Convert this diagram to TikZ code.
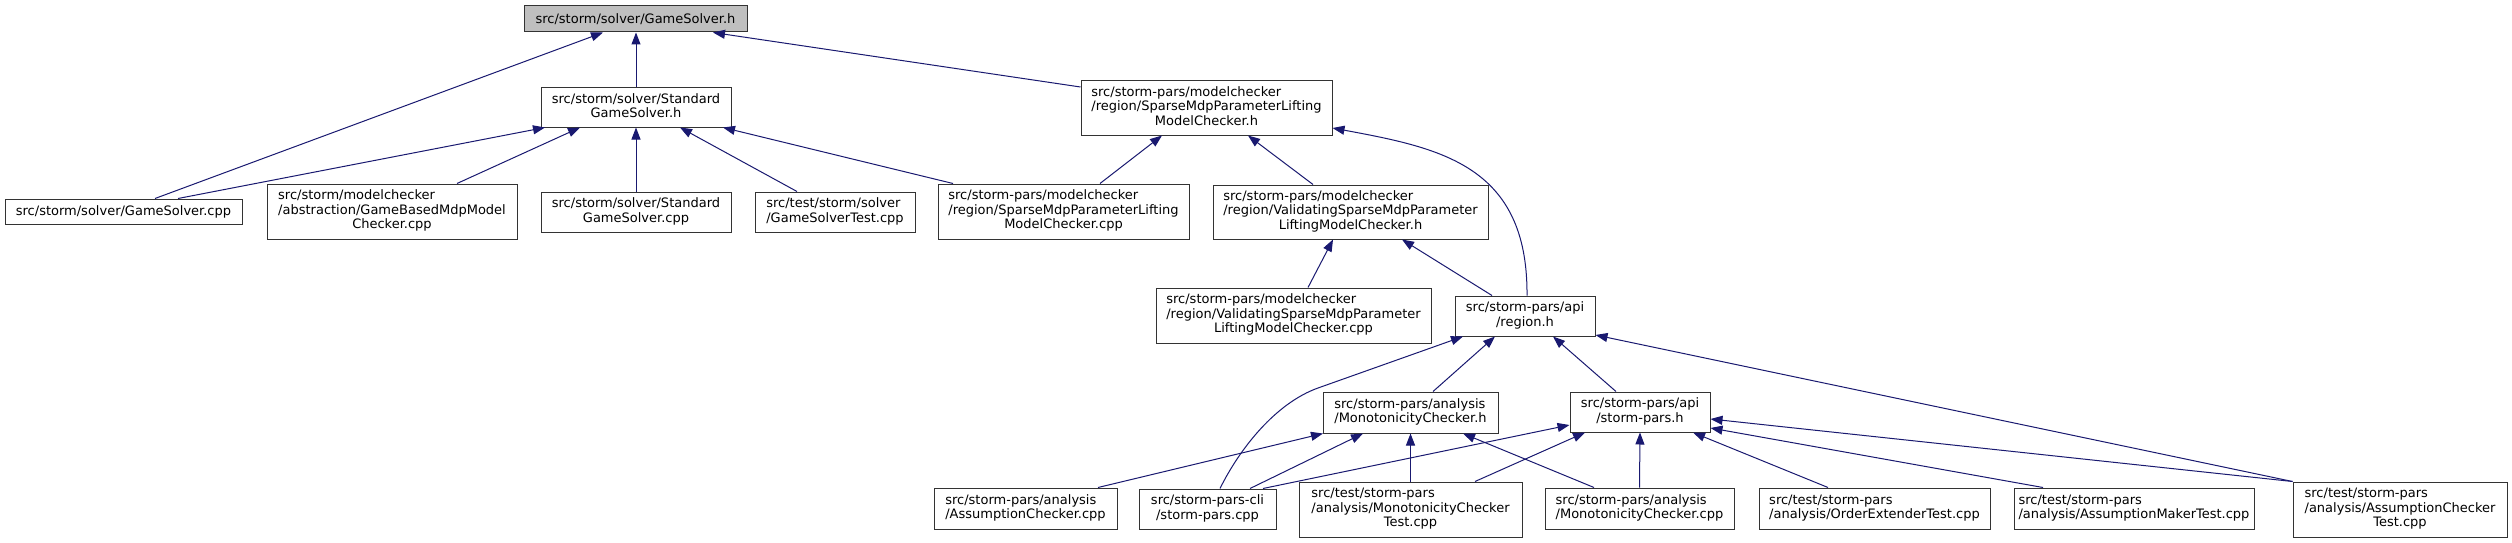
\documentclass[tikz,border=0pt]{standalone}
\usepackage{fontspec}
\setmainfont{DejaVu Sans}
\usetikzlibrary{arrows.meta}
\definecolor{edgeblue}{HTML}{191970}
\definecolor{rootgray}{HTML}{BFBFBF}
\newcommand\labtwo[2]{\begin{tabular}{@{}l@{}}#1\\\multicolumn{1}{@{}c@{}}{#2}\end{tabular}}
\newcommand\labthree[3]{\begin{tabular}{@{}l@{}}#1\\#2\\\multicolumn{1}{@{}c@{}}{#3}\end{tabular}}
\begin{document}
\begin{tikzpicture}[x=1pt,y=-1pt,
  box/.style={draw=black!80, line width=1pt, fill=white, inner sep=0pt,
    font=\fontsize{13}{14.5}\selectfont},
  edge/.style={draw=edgeblue, line width=1pt, {Triangle[length=12pt,width=9pt]}-}]
\useasboundingbox[fill=white] (0,0) rectangle (2512,543);
% row 0
\node[box, fill=rootgray, minimum width=223pt, minimum height=26pt] (GSh) at (635.5,19) {src/storm/solver/GameSolver.h};
% row 1
\node[box, minimum width=190pt, minimum height=39pt] (SGSh) at (636,107.5) {\labtwo{src/storm/solver/Standard}{GameSolver.h}};
\node[box, minimum width=251pt, minimum height=54pt] (SMPh) at (1206.5,108) {\labthree{src/storm-pars/modelchecker}{/region/SparseMdpParameterLifting}{ModelChecker.h}};
% row 2
\node[box, minimum width=237pt, minimum height=25pt] (GScpp) at (123.5,211.5) {src/storm/solver/GameSolver.cpp};
\node[box, minimum width=250pt, minimum height=55pt] (GBMMC) at (392,211.5) {\labthree{src/storm/modelchecker}{/abstraction/GameBasedMdpModel}{Checker.cpp}};
\node[box, minimum width=190pt, minimum height=40pt] (SGScpp) at (636,212) {\labtwo{src/storm/solver/Standard}{GameSolver.cpp}};
\node[box, minimum width=160pt, minimum height=40pt] (GST) at (835,212) {\labtwo{src/test/storm/solver}{/GameSolverTest.cpp}};
\node[box, minimum width=251pt, minimum height=55pt] (SMPcpp) at (1063.5,211.5) {\labthree{src/storm-pars/modelchecker}{/region/SparseMdpParameterLifting}{ModelChecker.cpp}};
\node[box, minimum width=275pt, minimum height=54pt] (VSMPh) at (1350.5,212) {\labthree{src/storm-pars/modelchecker}{/region/ValidatingSparseMdpParameter}{LiftingModelChecker.h}};
% row 3
\node[box, minimum width=275pt, minimum height=55pt] (VSMPcpp) at (1293.5,315.5) {\labthree{src/storm-pars/modelchecker}{/region/ValidatingSparseMdpParameter}{LiftingModelChecker.cpp}};
\node[box, minimum width=140pt, minimum height=40pt] (regionh) at (1525,316) {\labtwo{src/storm-pars/api}{/region.h}};
% row 4
\node[box, minimum width=175pt, minimum height=41pt] (Monoh) at (1410.5,412.5) {\labtwo{src/storm-pars/analysis}{/MonotonicityChecker.h}};
\node[box, minimum width=140pt, minimum height=40pt] (stormparsh) at (1640,412) {\labtwo{src/storm-pars/api}{/storm-pars.h}};
% row 5
\node[box, minimum width=183pt, minimum height=41pt] (ACcpp) at (1025.5,508.5) {\labtwo{src/storm-pars/analysis}{/AssumptionChecker.cpp}};
\node[box, minimum width=137pt, minimum height=40pt] (cli) at (1207.5,509) {\labtwo{src/storm-pars-cli}{/storm-pars.cpp}};
\node[box, minimum width=223pt, minimum height=55pt] (MonoTest) at (1410.5,509.5) {\labthree{src/test/storm-pars}{/analysis/MonotonicityChecker}{Test.cpp}};
\node[box, minimum width=189pt, minimum height=41pt] (Monocpp) at (1639.5,508.5) {\labtwo{src/storm-pars/analysis}{/MonotonicityChecker.cpp}};
\node[box, minimum width=231pt, minimum height=41pt] (OET) at (1874.5,508.5) {\labtwo{src/test/storm-pars}{/analysis/OrderExtenderTest.cpp}};
\node[box, minimum width=240pt, minimum height=41pt] (AMT) at (2134,508.5) {\labtwo{src/test/storm-pars}{/analysis/AssumptionMakerTest.cpp}};
\node[box, minimum width=214pt, minimum height=55pt] (ACT) at (2400,509.5) {\labthree{src/test/storm-pars}{/analysis/AssumptionChecker}{Test.cpp}};
% edges into GameSolver.h
\draw[edge] ([xshift=-32.5pt]GSh.south) -- ([xshift=31.5pt]GScpp.north);
\draw[edge] (SGSh.north |- GSh.south) -- (SGSh.north);
\draw[edge] ([xshift=77.5pt]GSh.south) -- ([yshift=21pt]SMPh.west);
% edges into StandardGameSolver.h
\draw[edge] ([xshift=-91pt]SGSh.south) -- ([xshift=54.5pt]GScpp.north);
\draw[edge] ([xshift=-56pt]SGSh.south) -- ([xshift=65pt]GBMMC.north);
\draw[edge] (SGSh.south) -- (SGScpp.north);
\draw[edge] ([xshift=44pt]SGSh.south) -- ([xshift=-38pt]GST.north);
\draw[edge] ([xshift=87pt]SGSh.south) -- ([xshift=-110.5pt]SMPcpp.north);
% edges into SparseMdpParameterLiftingModelChecker.h
\draw[edge] ([xshift=-44.5pt]SMPh.south) -- ([xshift=36.5pt]SMPcpp.north);
\draw[edge] ([xshift=41.5pt]SMPh.south) -- ([xshift=-37.5pt]VSMPh.north);
\draw[edge] ([yshift=-20pt]SMPh.east) .. controls (1440,148) and (1528,165) .. ([xshift=2pt]regionh.north);
% edges into ValidatingSparseMdpParameterLiftingModelChecker.h
\draw[edge] ([xshift=-17.5pt]VSMPh.south) -- ([xshift=14.5pt]VSMPcpp.north);
\draw[edge] ([xshift=51.5pt]VSMPh.south) -- ([xshift=-33pt]regionh.north);
% edges into region.h
\draw[edge] ([xshift=-62pt]regionh.south) -- (1318,388) .. controls (1276,403) and (1240,448) .. ([xshift=12.5pt]cli.north);
\draw[edge] ([xshift=-30pt]regionh.south) -- ([xshift=22.5pt]Monoh.north);
\draw[edge] ([xshift=28pt]regionh.south) -- ([xshift=-24pt]stormparsh.north);
\draw[edge] ([yshift=-19pt]regionh.east) -- (ACT.north west);
% edges into MonotonicityChecker.h
\draw[edge] ([xshift=-87.5pt]Monoh.south) -- ([xshift=72.5pt]ACcpp.north);
\draw[edge] ([xshift=-47.5pt]Monoh.south) -- ([xshift=42.5pt]cli.north);
\draw[edge] (Monoh.south) -- (MonoTest.north);
\draw[edge] ([xshift=52.5pt]Monoh.south) -- ([xshift=-45.5pt]Monocpp.north);
% edges into storm-pars.h
\draw[edge] ([yshift=-13pt]stormparsh.west) -- ([xshift=55.5pt]cli.north);
\draw[edge] ([xshift=-55pt]stormparsh.south) -- ([xshift=64.5pt]MonoTest.north);
\draw[edge] (stormparsh.south) -- (Monocpp.north);
\draw[edge] ([xshift=53pt]stormparsh.south) -- ([xshift=-46.5pt]OET.north);
\draw[edge] ([yshift=-16pt]stormparsh.east) -- ([xshift=-91pt]AMT.north);
\draw[edge] ([yshift=-7pt]stormparsh.east) -- (ACT.north west);
\end{tikzpicture}
\end{document}
